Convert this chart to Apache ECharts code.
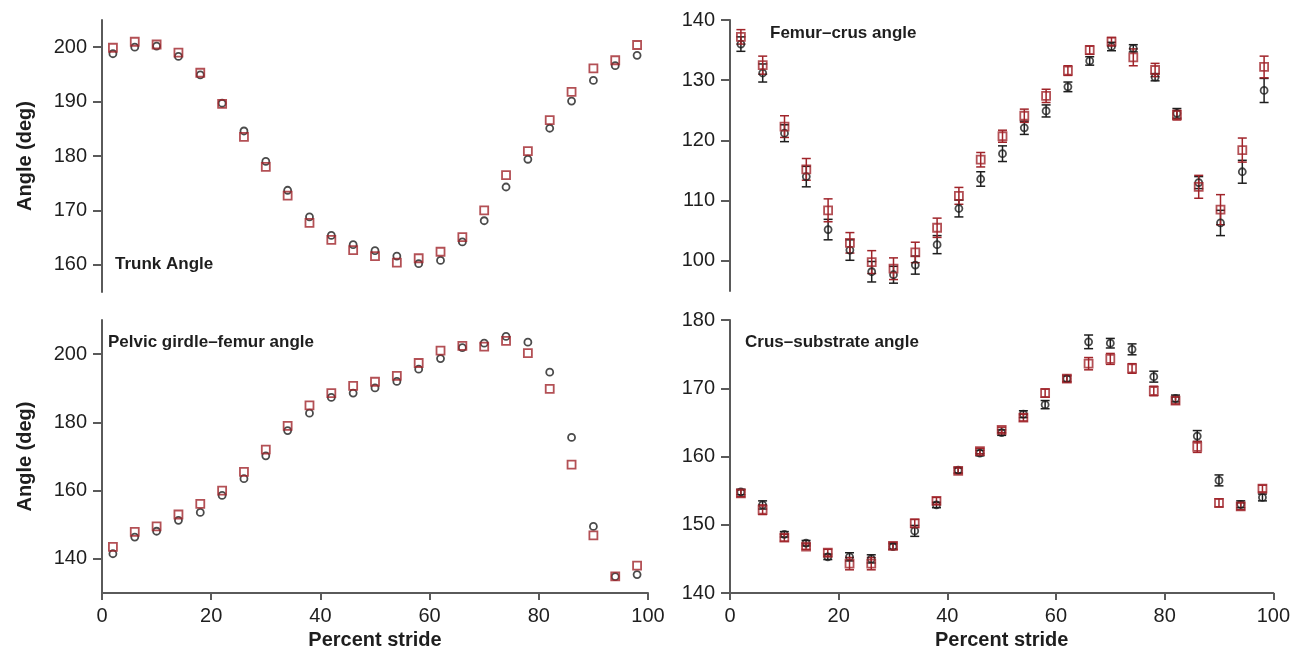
<!DOCTYPE html>
<html>
<head>
<meta charset="utf-8">
<script src="https://cdn.jsdelivr.net/npm/echarts@6/dist/echarts.min.js"></script>
<style>
html,body{margin:0;padding:0;background:#fff;}
#chart{width:1293px;height:651px;}
</style>
</head>
<body>
<div id="chart"></div>
<script>
// ---- data ----
const stride = [2,6,10,14,18,22,26,30,34,38,42,46,50,54,58,62,66,70,74,78,82,86,90,94,98];
const xTicks = [0,20,40,60,80,100];

const trunkCircle = [198.8,200.0,200.2,198.3,194.9,189.7,184.6,179.0,173.7,168.8,165.4,163.7,162.6,161.6,160.2,160.8,164.2,168.1,174.3,179.4,185.1,190.1,193.9,196.6,198.5];
const trunkSquare = [199.9,201.0,200.5,199.0,195.3,189.6,183.5,178.0,172.7,167.7,164.6,162.7,161.6,160.4,161.2,162.4,165.1,170.0,176.5,180.9,186.6,191.8,196.1,197.6,200.4];
const trunkTicks = [160,170,180,190,200];

const femurCircle = [136.0,131.2,121.2,114.0,105.2,101.8,98.2,97.7,99.3,102.7,108.7,113.6,117.8,122.1,124.9,128.9,133.2,135.6,135.3,130.5,124.5,113.0,106.3,114.8,128.3];
const femurCircleErr = [1.2,1.5,1.4,1.7,1.7,1.7,1.7,1.4,1.5,1.5,1.4,1.2,1.3,1.1,1.0,0.8,0.7,0.7,0.6,0.6,0.8,1.0,2.1,1.9,2.0];
const femurSquare = [137.2,132.5,122.3,115.2,108.4,103.0,99.8,98.7,101.4,105.5,110.8,116.8,120.7,124.1,127.4,131.6,135.0,136.4,133.8,131.7,124.2,112.3,108.5,118.4,132.2];
const femurSquareErr = [1.2,1.5,1.8,1.8,1.9,1.7,1.9,1.8,1.7,1.6,1.4,1.2,1.0,1.1,1.1,0.8,0.7,0.7,1.4,1.1,0.8,1.9,2.5,2.0,1.8];
const femurTicks = [100,110,120,130,140];

const pelvicCircle = [141.5,146.4,148.1,151.3,153.6,158.6,163.5,170.2,177.6,182.7,187.3,188.6,190.1,192.0,195.6,198.7,201.9,203.2,205.2,203.5,194.7,175.6,149.5,134.8,135.4];
const pelvicSquare = [143.5,147.9,149.5,153.0,156.1,160.0,165.5,172.0,179.0,185.0,188.6,190.7,191.9,193.6,197.4,201.0,202.4,202.2,203.9,200.3,189.8,167.6,146.9,134.9,138.0];
const pelvicTicks = [140,160,180,200];

const crusCircle = [154.8,152.9,148.6,147.3,145.3,145.3,145.0,146.8,149.1,152.9,158.0,160.5,163.5,166.2,167.6,171.4,176.8,176.6,175.7,171.7,168.5,163.0,156.5,153.0,154.0];
const crusCircleErr = [0.4,0.6,0.4,0.4,0.4,0.6,0.6,0.4,0.8,0.4,0.4,0.4,0.4,0.5,0.6,0.4,1.0,0.7,0.8,0.8,0.5,0.8,0.8,0.5,0.5];
const crusSquare = [154.6,152.2,148.1,146.8,145.9,144.3,144.3,146.9,150.2,153.5,157.9,160.8,163.9,165.7,169.3,171.4,173.6,174.3,172.9,169.6,168.2,161.4,153.2,152.7,155.3];
const crusSquareErr = [0.5,0.7,0.5,0.4,0.5,0.9,0.9,0.5,0.6,0.5,0.4,0.4,0.4,0.5,0.6,0.5,0.9,0.8,0.7,0.7,0.5,0.8,0.6,0.5,0.5];
const crusTicks = [140,150,160,170,180];

// ---- styling ----
const FONT = "'Liberation Sans', Arial, Helvetica, sans-serif";
const BLACK = '#1e1e1e';
const RED = '#a0242a';
const AXIS = '#5a5a5a';

const chart = echarts.init(document.getElementById('chart'));

function pts(ys){ return stride.map((x,i)=>[x, ys[i]]); }
function errPts(ys, es){ return stride.map((x,i)=>[x, ys[i]-es[i], ys[i]+es[i]]); }

function errRender(color){
  return function(params, api){
    const x = api.value(0), lo = api.value(1), hi = api.value(2);
    const a = api.coord([x, hi]);
    const b = api.coord([x, lo]);
    const w = 4.5;
    const st = {stroke: color, lineWidth: 1.5};
    return {type:'group', children:[
      {type:'line', shape:{x1:a[0],y1:a[1],x2:b[0],y2:b[1]}, style:st},
      {type:'line', shape:{x1:a[0]-w,y1:a[1],x2:a[0]+w,y2:a[1]}, style:st},
      {type:'line', shape:{x1:b[0]-w,y1:b[1],x2:b[0]+w,y2:b[1]}, style:st}
    ]};
  };
}

const grids = [
  {left:102, top:20, width:546, height:272},
  {left:730, top:20, width:545, height:271},
  {left:102, top:320, width:546, height:273},
  {left:730, top:320, width:545, height:273}
];

function xAxis(i, show){
  return {
    gridIndex:i, type:'value', min:0, max:100, interval:20, show:show,
    axisLine:{show:true, onZero:false, lineStyle:{color:AXIS, width:2}},
    axisTick:{show:true, inside:false, length:7, lineStyle:{color:AXIS, width:2}},
    axisLabel:{fontSize:20, color:BLACK, fontFamily:FONT, margin:13},
    splitLine:{show:false},
    name: show ? 'Percent stride' : '',
    nameLocation:'middle', nameGap:37,
    nameTextStyle:{fontSize:20, fontWeight:'bold', color:BLACK, fontFamily:FONT}
  };
}
function yAxis(i, min, max, ticks, title){
  return {
    gridIndex:i, type:'value', min:min, max:max,
    axisLine:{show:true, onZero:false, lineStyle:{color:AXIS, width:2}},
    axisTick:{show:true, inside:false, length:9, customValues:ticks, lineStyle:{color:AXIS, width:2}},
    axisLabel:{fontSize:20, color:BLACK, fontFamily:FONT, margin:15, customValues:ticks},
    splitLine:{show:false},
    name: title || '', nameLocation:'middle', nameGap:67, nameRotate:90,
    nameTextStyle:{fontSize:20, fontWeight:'bold', color:BLACK, fontFamily:FONT}
  };
}

function circleSeries(i, ys){
  return {type:'scatter', xAxisIndex:i, yAxisIndex:i, data:pts(ys), symbol:'circle', symbolSize:7,
    itemStyle:{color:'rgba(255,255,255,0)', borderColor:BLACK, borderWidth:1.8}, z:3, silent:true};
}
function squareSeries(i, ys){
  return {type:'scatter', xAxisIndex:i, yAxisIndex:i, data:pts(ys), symbol:'rect', symbolSize:8,
    itemStyle:{color:'rgba(255,255,255,0)', borderColor:RED, borderWidth:1.8}, z:4, silent:true};
}
function errSeries(i, ys, es, color, z){
  return {type:'custom', xAxisIndex:i, yAxisIndex:i, data:errPts(ys, es), renderItem:errRender(color),
    encode:{x:0, y:[1,2]}, z:z, silent:true};
}

const titleStyle = {fontSize:17, fontWeight:'bold', color:BLACK, fontFamily:FONT};

const option = {
  animation:false,
  backgroundColor:'#ffffff',
  title:[
    {text:'Trunk Angle', left:115, top:256, padding:0, textStyle:titleStyle},
    {text:'Femur\u2013crus angle', left:770, top:25, padding:0, textStyle:titleStyle},
    {text:'Pelvic girdle\u2013femur angle', left:108, top:334, padding:0, textStyle:titleStyle},
    {text:'Crus\u2013substrate angle', left:745, top:334, padding:0, textStyle:titleStyle}
  ],
  grid:grids,
  xAxis:[xAxis(0,false), xAxis(1,false), xAxis(2,true), xAxis(3,true)],
  yAxis:[
    yAxis(0,155,205,trunkTicks,'Angle (deg)'),
    yAxis(1,95,140,femurTicks,''),
    yAxis(2,130,210,pelvicTicks,'Angle (deg)'),
    yAxis(3,140,180,crusTicks,'')
  ],
  series:[
    circleSeries(0, trunkCircle),
    squareSeries(0, trunkSquare),
    errSeries(1, femurCircle, femurCircleErr, BLACK, 2),
    errSeries(1, femurSquare, femurSquareErr, RED, 2),
    circleSeries(1, femurCircle),
    squareSeries(1, femurSquare),
    circleSeries(2, pelvicCircle),
    squareSeries(2, pelvicSquare),
    errSeries(3, crusCircle, crusCircleErr, BLACK, 2),
    errSeries(3, crusSquare, crusSquareErr, RED, 2),
    circleSeries(3, crusCircle),
    squareSeries(3, crusSquare)
  ]
};
chart.setOption(option);
</script>
</body>
</html>
